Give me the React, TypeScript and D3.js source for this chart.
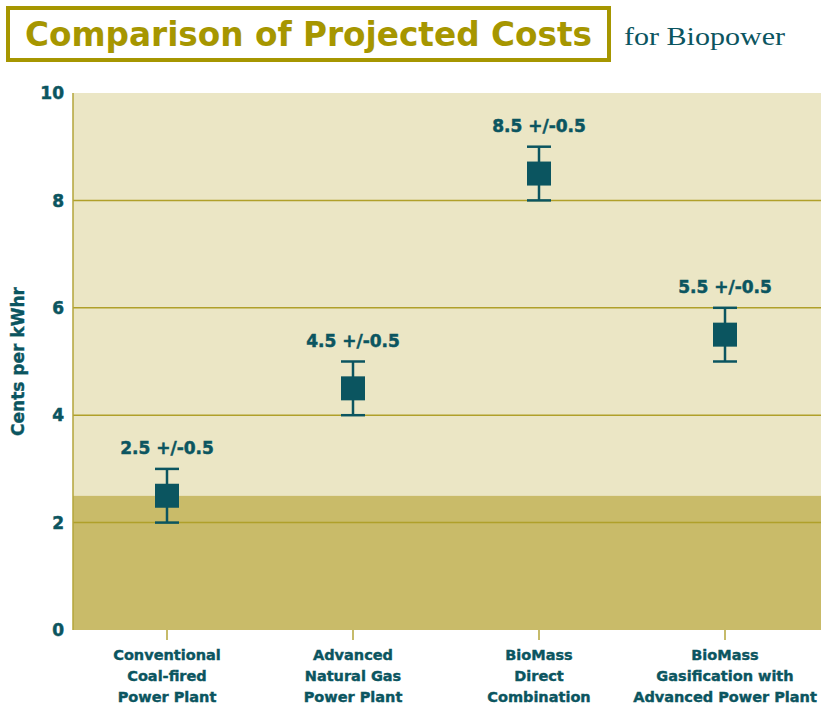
import React, { useRef, useEffect } from "react";
import * as d3 from "d3";

// chart values
const categories = [
  ["Conventional", "Coal-fired", "Power Plant"],
  ["Advanced", "Natural Gas", "Power Plant"],
  ["BioMass", "Direct", "Combination"],
  ["BioMass", "Gasification with", "Advanced Power Plant"],
];
const costs = [2.5, 4.5, 8.5, 5.5];
const errors = [0.5, 0.5, 0.5, 0.5];
const valueLabels = ["2.5 +/-0.5", "4.5 +/-0.5", "8.5 +/-0.5", "5.5 +/-0.5"];
const yTicks = [0, 2, 4, 6, 8, 10];
const bandTop = 2.5;

const TEAL = "#0b5560";
const GOLD = "#a69600";
const FONT = "'DejaVu Sans', Verdana, sans-serif";

function App() {
  const svgRef = useRef<SVGSVGElement>(null);
  const width = 821;
  const height = 707;

  useEffect(() => {
    const svg = d3.select(svgRef.current);
    svg.selectAll("*").remove();

    const left = 73;
    const right = 821;
    const top = 93;
    const bottom = 630;

    const x = d3
      .scalePoint<number>()
      .domain(d3.range(categories.length))
      .range([167, 725]);

    const y = d3.scaleLinear().domain([0, 10]).range([bottom, top]);

    // title
    svg
      .append("rect")
      .attr("x", 8)
      .attr("y", 8)
      .attr("width", 601)
      .attr("height", 52)
      .attr("fill", "white")
      .attr("stroke", GOLD)
      .attr("stroke-width", 4);
    svg
      .append("text")
      .attr("x", 25)
      .attr("y", 46)
      .attr("textLength", 567)
      .attr("lengthAdjust", "spacingAndGlyphs")
      .attr("fill", GOLD)
      .attr("font-family", "'DejaVu Sans Condensed', 'Liberation Sans Narrow', Arial, sans-serif")
      .attr("font-weight", "bold")
      .attr("font-size", 34)
      .text("Comparison of Projected Costs");
    svg
      .append("text")
      .attr("x", 624)
      .attr("y", 45)
      .attr("textLength", 161)
      .attr("lengthAdjust", "spacingAndGlyphs")
      .attr("fill", TEAL)
      .attr("font-family", "'Liberation Serif', 'DejaVu Serif', serif")
      .attr("font-size", 26)
      .text("for Biopower");

    // background areas
    svg
      .append("rect")
      .attr("x", left)
      .attr("y", y(10))
      .attr("width", right - left)
      .attr("height", y(bandTop) - y(10))
      .attr("fill", "#ebe6c5");
    svg
      .append("rect")
      .attr("x", left)
      .attr("y", y(bandTop))
      .attr("width", right - left)
      .attr("height", y(0) - y(bandTop))
      .attr("fill", "#c9bb69");

    // gridlines
    svg
      .append("g")
      .selectAll("line")
      .data(yTicks.filter((t) => t > 0 && t < 10))
      .join("line")
      .attr("x1", left)
      .attr("x2", right)
      .attr("y1", (d) => y(d))
      .attr("y2", (d) => y(d))
      .attr("stroke", "#b0a02a")
      .attr("stroke-width", 1.5);

    // left axis line
    svg
      .append("line")
      .attr("x1", left)
      .attr("x2", left)
      .attr("y1", y(10))
      .attr("y2", y(0))
      .attr("stroke", "#b3a53a")
      .attr("stroke-width", 1.5);

    // y tick labels
    svg
      .append("g")
      .selectAll("text")
      .data(yTicks)
      .join("text")
      .attr("x", 64)
      .attr("y", (d) => y(d))
      .attr("dy", "0.36em")
      .attr("text-anchor", "end")
      .attr("fill", TEAL)
      .attr("stroke", TEAL)
      .attr("stroke-width", 0.5)
      .attr("font-family", FONT)
      .attr("font-weight", "bold")
      .attr("font-size", 17)
      .text((d) => d);

    svg
      .append("text")
      .attr("transform", `translate(24,${(top + bottom) / 2}) rotate(-90)`)
      .attr("text-anchor", "middle")
      .attr("fill", TEAL)
      .attr("stroke", TEAL)
      .attr("stroke-width", 0.4)
      .attr("font-family", FONT)
      .attr("font-weight", "bold")
      .attr("font-size", 17)
      .text("Cents per kWhr");

    // category ticks and labels
    const cat = svg.append("g");
    categories.forEach((lines, i) => {
      const xc = x(i) as number;
      cat
        .append("line")
        .attr("x1", xc)
        .attr("x2", xc)
        .attr("y1", bottom)
        .attr("y2", bottom + 10)
        .attr("stroke", "#b3a53a")
        .attr("stroke-width", 1.5);
      const t = cat
        .append("text")
        .attr("text-anchor", "middle")
        .attr("fill", TEAL)
        .attr("stroke", TEAL)
        .attr("stroke-width", 0.4)
        .attr("font-family", FONT)
        .attr("font-weight", "bold")
        .attr("font-size", 14.5);
      lines.forEach((ln, k) => {
        t.append("tspan")
          .attr("x", xc)
          .attr("y", 660 + k * 21)
          .text(ln);
      });
    });

    // error bars and markers
    const g = svg.append("g");
    costs.forEach((v, i) => {
      const xc = x(i) as number;
      const hi = v + errors[i];
      const lo = v - errors[i];
      g.append("line")
        .attr("x1", xc)
        .attr("x2", xc)
        .attr("y1", y(hi))
        .attr("y2", y(lo))
        .attr("stroke", TEAL)
        .attr("stroke-width", 2.5);
      [hi, lo].forEach((e) => {
        g.append("line")
          .attr("x1", xc - 12)
          .attr("x2", xc + 12)
          .attr("y1", y(e))
          .attr("y2", y(e))
          .attr("stroke", TEAL)
          .attr("stroke-width", 2.5);
      });
      g.append("rect")
        .attr("x", xc - 12)
        .attr("y", y(v) - 12)
        .attr("width", 24)
        .attr("height", 24)
        .attr("fill", TEAL);
      g.append("text")
        .attr("x", xc)
        .attr("y", y(hi) - 15)
        .attr("text-anchor", "middle")
        .attr("fill", TEAL)
        .attr("stroke", TEAL)
        .attr("stroke-width", 0.5)
        .attr("font-family", FONT)
        .attr("font-weight", "bold")
        .attr("font-size", 17)
        .text(valueLabels[i]);
    });
  }, []);

  return (
    <svg
      ref={svgRef}
      width={width}
      height={height}
      style={{ position: "absolute", left: 0, top: 0 }}
    />
  );
}

export default App;
